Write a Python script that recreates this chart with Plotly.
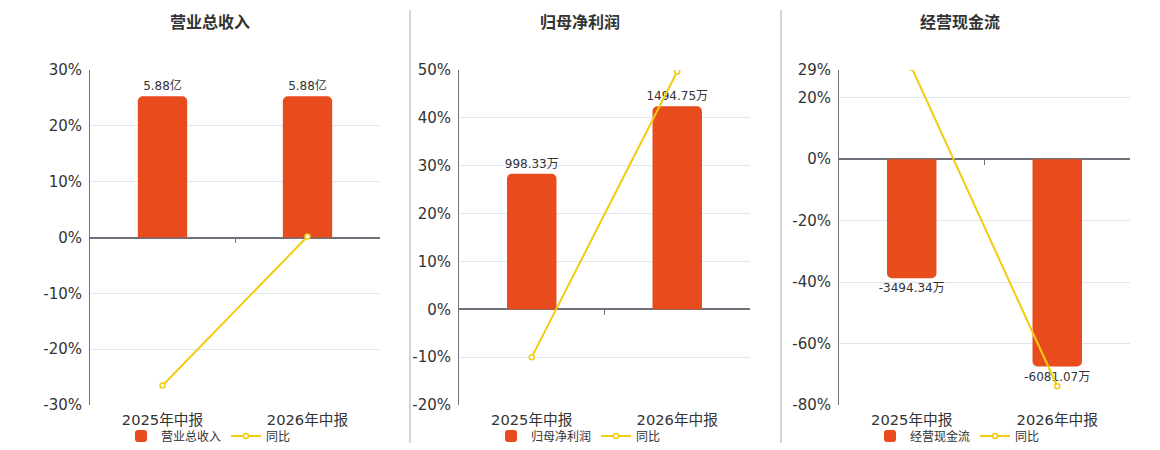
import plotly.graph_objects as go

# categories and values
periods = ["2025年中报", "2026年中报"]

titles = ["营业总收入", "归母净利润", "经营现金流"]

revenue = [5.88, 5.88]            # 亿
revenue_labels = ["5.88亿", "5.88亿"]
revenue_yoy = [-26.5, 0.18]       # %

profit = [998.33, 1494.75]        # 万
profit_labels = ["998.33万", "1494.75万"]
profit_yoy = [-10.0, 49.7]

cashflow = [-3494.34, -6081.07]   # 万
cashflow_labels = ["-3494.34万", "-6081.07万"]
cashflow_yoy = [29.7, -73.9]

BAR = "#E84B1C"
LINE = "#F2CB0F"
AXIS = "#6E7079"
FONT = "DejaVu Sans, Noto Sans CJK SC, sans-serif"
W, H = 1160, 450
OFF = 8   # page body margin that shifts the figure


def px_x(p):
    return (p - OFF) / W


def px_y(p):
    return 1 - (p - OFF) / H


panels = [
    dict(bars=revenue, labels=revenue_labels, yoy=revenue_yoy,
         pct_range=[-30, 30], ticks=[-30, -20, -10, 0, 10, 20, 30],
         bar_range=[-6.97, 6.97], x0=90, x1=380, zero_y=237,
         title_x=210, legend_x=121),
    dict(bars=profit, labels=profit_labels, yoy=profit_yoy,
         pct_range=[-20, 50], ticks=[-20, -10, 0, 10, 20, 30, 40, 50],
         bar_range=[-705, 1762], x0=459, x1=750, zero_y=309,
         title_x=580, legend_x=491),
    dict(bars=cashflow, labels=cashflow_labels, yoy=cashflow_yoy,
         pct_range=[-80, 29], ticks=[-80, -60, -40, -20, 0, 20, 29],
         bar_range=[-7208, 2613], x0=839, x1=1130, zero_y=159,
         title_x=960, legend_x=870),
]

fig = go.Figure()
layout = dict(
    width=W, height=H,
    margin=dict(l=0, r=0, t=0, b=0),
    paper_bgcolor="white", plot_bgcolor="white",
    font=dict(family=FONT, color="#333"),
    bargap=0.66,
    barcornerradius=5,
    annotations=[],
    shapes=[],
)

for i, p in enumerate(panels):
    n = i + 1
    sfx = "" if n == 1 else str(n)
    bar_ax = 3 + n          # hidden axis for bar amounts
    tick_ax = 3 + n         # extra x axis sitting on the zero line
    legend_name = "legend" if n == 1 else "legend%d" % n

    fig.add_trace(go.Bar(
        x=periods, y=p["bars"], name=titles[i],
        xaxis="x" + sfx, yaxis="y%d" % bar_ax,
        marker=dict(color=BAR, line=dict(width=0)),
        text=p["labels"], textposition="outside", cliponaxis=False,
        constraintext="none",
        textfont=dict(size=12, color="#333"),
        legend=legend_name, hoverinfo="skip",
    ))
    fig.add_trace(go.Scatter(
        x=periods, y=p["yoy"], name="同比",
        xaxis="x" + sfx, yaxis="y" + sfx,
        mode="lines+markers",
        line=dict(color=LINE, width=2),
        marker=dict(size=5, color="white", line=dict(color=LINE, width=1.5)),
        legend=legend_name,
    ))
    # empty trace so the zero-line axis knows its categories
    fig.add_trace(go.Scatter(
        x=periods, y=[0, 0], mode="none", showlegend=False, hoverinfo="skip",
        xaxis="x%d" % tick_ax, yaxis="y%d" % bar_ax,
    ))

    dom_x = [px_x(p["x0"]), px_x(p["x1"])]
    dom_y = [px_y(405), px_y(70)]
    layout["xaxis" + sfx] = dict(
        domain=dom_x, anchor="y%d" % bar_ax, type="category",
        showline=False, ticks="", showgrid=False, automargin=False,
        tickfont=dict(size=14.7, color="#333"), ticklabelstandoff=4,
    )
    layout["xaxis%d" % tick_ax] = dict(
        overlaying="x" + sfx, anchor="free", position=px_y(p["zero_y"]),
        type="category", side="bottom", showticklabels=False,
        showline=False, showgrid=False, ticks="outside", tickson="boundaries",
        ticklen=5, tickcolor=AXIS, tickwidth=1, automargin=False,
    )
    # bars go on the base axis so the yoy line draws on top of them
    layout["yaxis%d" % bar_ax] = dict(
        domain=dom_y, anchor="x" + sfx, range=p["bar_range"],
        showticklabels=False, showgrid=False, zeroline=False, showline=False,
        automargin=False,
    )
    layout["yaxis" + sfx] = dict(
        overlaying="y%d" % bar_ax, anchor="x" + sfx, side="left",
        range=p["pct_range"], tickvals=p["ticks"],
        ticktext=["%d%%" % t for t in p["ticks"]],
        tickfont=dict(size=15, color="#333"),
        showgrid=True, gridcolor="#E0E6F1", gridwidth=1,
        zeroline=True, zerolinecolor=AXIS, zerolinewidth=2,
        showline=True, linecolor=AXIS, linewidth=1,
        ticks="", ticklabelstandoff=4, automargin=False,
    )
    layout[legend_name] = dict(
        orientation="h", x=px_x(p["legend_x"]), xanchor="left",
        y=px_y(436), yanchor="middle",
        font=dict(size=12, color="#333"), itemwidth=30,
        bgcolor="rgba(0,0,0,0)",
    )
    layout["annotations"].append(dict(
        text="<b>%s</b>" % titles[i], x=px_x(p["title_x"]), y=px_y(23),
        xref="paper", yref="paper", showarrow=False,
        xanchor="center", yanchor="middle",
        font=dict(size=16, color="#333"),
    ))

# thin separators between the three panels
for sx in (410, 781):
    layout["shapes"].append(dict(
        type="line", xref="paper", yref="paper",
        x0=px_x(sx), x1=px_x(sx), y0=px_y(10), y1=px_y(443),
        line=dict(color="#AAAAAA", width=1),
    ))

fig.update_layout(**layout)
fig.write_html("out.html")
